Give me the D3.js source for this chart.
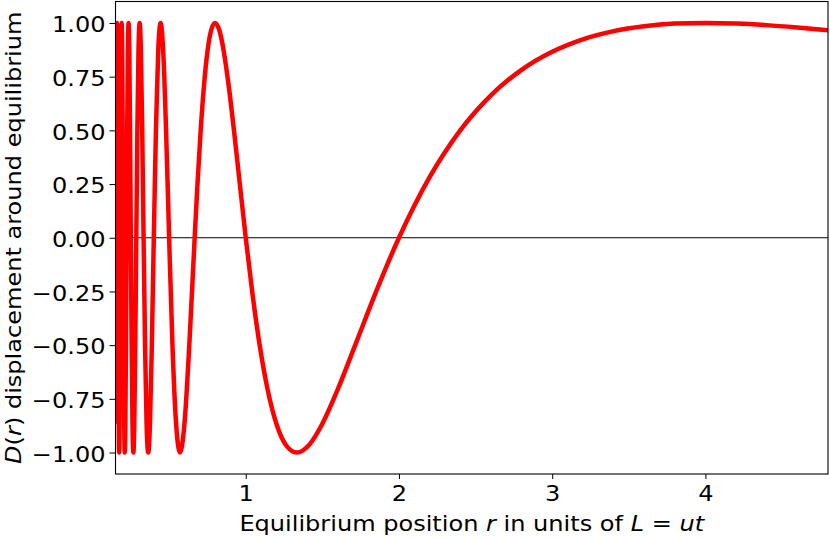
<!DOCTYPE html>
<html>
<head>
<meta charset="utf-8">
<script src="https://cdn.jsdelivr.net/npm/d3@7"></script>
<style>
    body { margin: 0; background: #fff; }
    text { font-family: "DejaVu Sans", sans-serif; }
</style>
</head>
<body>
<script>

// points: equilibrium position r and displacement D(r)
let rValues = [
    0.1500, 0.1519, 0.1538, 0.1558, 0.1579, 0.1600, 0.1622, 0.1644, 0.1667, 0.1690,
    0.1714, 0.1739, 0.1765, 0.1791, 0.1818, 0.1846, 0.1875, 0.1905, 0.1935, 0.1967,
    0.2000, 0.2034, 0.2069, 0.2105, 0.2143, 0.2182, 0.2222, 0.2264, 0.2308, 0.2353,
    0.2400, 0.2449, 0.2500, 0.2553, 0.2609, 0.2667, 0.2727, 0.2791, 0.2857, 0.2927,
    0.3000, 0.3077, 0.3158, 0.3243, 0.3333, 0.3429, 0.3529, 0.3636, 0.3750, 0.3871,
    0.4000, 0.4138, 0.4286, 0.4444, 0.4615, 0.4800, 0.5000, 0.5217, 0.5455, 0.5714,
    0.6000, 0.6316, 0.6667, 0.6857, 0.7059, 0.7273, 0.7500, 0.7742, 0.8000, 0.8276,
    0.8571, 0.8889, 0.9231, 0.9600, 1.0000, 1.0435, 1.0909, 1.1429, 1.2000, 1.2632,
    1.3333, 1.4118, 1.5000, 1.6000, 1.7143, 1.8462, 2.0000, 2.1000, 2.2000, 2.4000,
    2.6000, 2.8000, 3.0000, 3.2000, 3.4000, 3.6000, 3.8000, 4.0000, 4.2000, 4.4000,
    4.6000, 4.8000
];

let dValues = [
    -0.866, -0.5, 0, 0.5, 0.866, 1, 0.866, 0.5, 0, -0.5,
    -0.866, -1, -0.866, -0.5, 0, 0.5, 0.866, 1, 0.866, 0.5,
    0, -0.5, -0.866, -1, -0.866, -0.5, 0, 0.5, 0.866, 1,
    0.866, 0.5, 0, -0.5, -0.866, -1, -0.866, -0.5, 0, 0.5,
    0.866, 1, 0.866, 0.5, 0, -0.5, -0.866, -1, -0.866, -0.5,
    0, 0.5, 0.866, 1, 0.866, 0.5, 0, -0.5, -0.866, -1,
    -0.866, -0.5, 0, 0.259, 0.5, 0.707, 0.866, 0.966, 1, 0.966,
    0.866, 0.707, 0.5, 0.259, 0, -0.259, -0.5, -0.707, -0.866, -0.966,
    -1, -0.966, -0.866, -0.707, -0.5, -0.259, 0, 0.149, 0.282, 0.5,
    0.663, 0.782, 0.866, 0.924, 0.962, 0.985, 0.997, 1, 0.997, 0.990,
    0.979, 0.966
];

let xTicks = [1, 2, 3, 4];
let yTicks = [-1, -0.75, -0.5, -0.25, 0, 0.25, 0.5, 0.75, 1];

let svgWidth = 830;
let svgHeight = 538;

let plot = {
    left: 115.5,
    right: 828,
    top: 1.5,
    bottom: 474
}

let fontSize = 21;
// the text in the picture runs a bit wider than DejaVu at this height
let textStretch = 1.145;

let xScale = d3.scaleLinear()
    .domain([0.15, 4.8])
    .range([plot.left, plot.right])

let yScale = d3.scaleLinear()
    .domain([-1.1, 1.1])
    .range([plot.bottom, plot.top])

let svg = d3.select("body")
    .append("svg")
    .attr("width", svgWidth)
    .attr("height", svgHeight)

svg.append("clipPath")
    .attr("id", "plot-clip")
    .append("rect")
    .attr("x", plot.left)
    .attr("y", plot.top)
    .attr("width", plot.right - plot.left)
    .attr("height", plot.bottom - plot.top)

// zero line
svg.append("line")
    .attr("x1", plot.left)
    .attr("x2", plot.right)
    .attr("y1", yScale(0))
    .attr("y2", yScale(0))
    .attr("stroke", "#000")
    .attr("stroke-width", 1.1)

let points = rValues.map(function (r, i) { return [r, dValues[i]] });

let line = d3.line()
    .x(function (d) { return xScale(d[0]) })
    .y(function (d) { return yScale(d[1]) })
    .curve(d3.curveMonotoneX)

svg.append("path")
    .datum(points)
    .attr("clip-path", "url(#plot-clip)")
    .attr("fill", "none")
    .attr("stroke", "#ff0000")
    .attr("stroke-width", 4.5)
    .attr("stroke-linejoin", "round")
    .attr("d", line)

let xAxis = d3.axisBottom(xScale)
    .tickValues(xTicks)
    .tickFormat(d3.format("d"))
    .tickSize(5)
    .tickPadding(7)

let yAxis = d3.axisLeft(yScale)
    .tickValues(yTicks)
    .tickFormat(d3.format(".2f"))
    .tickSize(6)
    .tickPadding(4)

svg.append("g")
    .attr("transform", "translate(0," + plot.bottom + ")")
    .call(xAxis)
    .call(function (g) { g.select(".domain").remove() })
    .call(function (g) { g.selectAll("text").attr("transform", "scale(" + textStretch + ",1)") })
    .attr("font-size", fontSize)
    .attr("font-family", "DejaVu Sans")

svg.append("g")
    .attr("transform", "translate(" + plot.left + ",0)")
    .call(yAxis)
    .call(function (g) { g.select(".domain").remove() })
    .call(function (g) {
        g.selectAll("text")
            .attr("x", 0)
            .attr("dy", "0.42em")
            .attr("transform", "translate(-10,0) scale(" + textStretch + ",1)")
    })
    .attr("font-size", fontSize)
    .attr("font-family", "DejaVu Sans")

svg.selectAll(".tick line")
    .attr("stroke", "#000")
    .attr("stroke-width", 1)

svg.selectAll(".tick text")
    .attr("fill", "#000")

// frame
svg.append("rect")
    .attr("x", plot.left)
    .attr("y", plot.top)
    .attr("width", plot.right - plot.left)
    .attr("height", plot.bottom - plot.top)
    .attr("fill", "none")
    .attr("stroke", "#000")
    .attr("stroke-width", 1.1)

let xLabel = svg.append("text")
    .attr("transform", "translate(" + (plot.left + plot.right) / 2 + ",531) scale(" + textStretch + ",1)")
    .attr("text-anchor", "middle")
    .attr("font-size", fontSize)

xLabel.append("tspan").text("Equilibrium position ")
xLabel.append("tspan").attr("font-style", "italic").text("r")
xLabel.append("tspan").text(" in units of ")
xLabel.append("tspan").attr("font-style", "italic").text("L")
xLabel.append("tspan").text(" = ")
xLabel.append("tspan").attr("font-style", "italic").text("ut")

let yLabel = svg.append("text")
    .attr("transform", "translate(21," + (plot.top + plot.bottom) / 2 + ") rotate(-90) scale(" + textStretch + ",1)")
    .attr("text-anchor", "middle")
    .attr("font-size", fontSize)

yLabel.append("tspan").attr("font-style", "italic").text("D")
yLabel.append("tspan").text("(")
yLabel.append("tspan").attr("font-style", "italic").text("r")
yLabel.append("tspan").text(") displacement around equilibrium")

</script>
</body>
</html>
